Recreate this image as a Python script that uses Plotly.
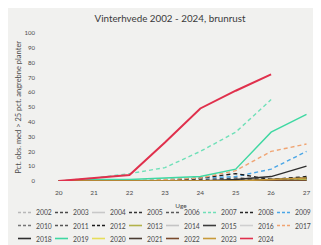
import plotly.graph_objects as go

# ---------------- data ----------------
weeks = [20, 21, 22, 23, 24, 25, 26, 27]
week_labels = ["20", "21", "22", "23", "24", "25", "26", "27"]
years = ["2002", "2003", "2004", "2005", "2006", "2007", "2008", "2009",
         "2010", "2011", "2012", "2013", "2014", "2015", "2016", "2017",
         "2018", "2019", "2020", "2021", "2022", "2023", "2024"]

y2002 = [0, 0, 0, 0, 0, 0, 0, 0]
y2003 = [0, 0, 0, 0, 1, 2, 1, 2]
y2004 = [0, 0, 0, 0, 0, 0, 0, 0]
y2005 = [0, 0, 0, 0, 0, 0, 0, 1]
y2006 = [0, 0, 0, 0, 0, 1, 0, 0]
y2007 = [0, 2, 5, 9, 20, 33, 55, None]
y2008 = [0, 0, 0, 0, 0, 0, 1, 2]
y2009 = [0, 0, 0, 1, 2, 3, 8, 20]
y2010 = [0, 0, 0, 0, 0, 0, 0, 0]
y2011 = [0, 0, 0, 0, 0, 0, 0, 0]
y2012 = [0, 0, 0, 0, 2, 5, 1, 3]
y2013 = [0, 0, 0, 0, 0, 0, 0, 1]
y2014 = [0, 0, 0, 0, 0, 0, 0, 0]
y2015 = [0, 0, 0, 0, 0, 0, 1, 2]
y2016 = [0, 0, 0, 0, 0, 0, 0, 0]
y2017 = [0, 0, 0, 1, 2, 7, 20, 25]
y2018 = [0, 0, 0, 0, 0, 1, 3, 10]
y2019 = [0, 1, 1, 2, 3, 8, 33, 45]
y2020 = [0, 0, 0, 0, 0, 0, 0, 0]
y2021 = [0, 0, 0, 0, 0, 0, 0, 0]
y2022 = [0, 0, 0, 0, 0, 0, 0, 0]
y2023 = [0, 0, 0, 0, 0, 0, 1, 2]
y2024 = [0, 2, 4, 26, 49, 61, 72, None]

series_values = [y2002, y2003, y2004, y2005, y2006, y2007, y2008, y2009,
                 y2010, y2011, y2012, y2013, y2014, y2015, y2016, y2017,
                 y2018, y2019, y2020, y2021, y2022, y2023, y2024]

# ---------------- styles ----------------
DASH = "4px,3px"
styles = {
    "2002": ("#b8b8b8", DASH), "2003": ("#4a4a4a", DASH), "2004": ("#c8c8c8", "solid"),
    "2005": ("#333333", DASH), "2006": ("#5a5a5a", DASH), "2007": ("#6fe0b8", DASH),
    "2008": ("#262626", DASH), "2009": ("#4aa6e6", DASH), "2010": ("#767676", DASH),
    "2011": ("#555555", DASH), "2012": ("#1c1c1c", DASH), "2013": ("#b2b24a", "solid"),
    "2014": ("#c4c4c4", "solid"), "2015": ("#3c3c3c", "solid"), "2016": ("#cfcfcf", "solid"),
    "2017": ("#f0a472", DASH), "2018": ("#2e2e2e", "solid"), "2019": ("#3fd8a2", "solid"),
    "2020": ("#e6de5a", "solid"), "2021": ("#4a3c32", "solid"), "2022": ("#7a4a2c", "solid"),
    "2023": ("#c89a3a", "solid"), "2024": ("#e0304c", "solid"),
}

BG = "#f1f1ef"
TXT = "#4a4a4a"
FONT = "Lato, 'Open Sans', sans-serif"

# the page body has an 8px margin; the figure is sized to fill the rest
OFF = 8
W, H = 321 - OFF, 245 - OFF
ML, MR, MT, MB = 33, 0, 25, 64
PW, PH = W - ML - MR, H - MT - MB

fig = go.Figure()
for name, vals in zip(years, series_values):
    col, dash = styles[name]
    fig.add_trace(go.Scatter(
        x=weeks, y=vals, name=name, mode="lines",
        line=dict(color=col, width=2 if name == "2024" else 1.4, dash=dash),
        showlegend=False,
    ))

# compact legend (3 rows x 8), built from the year list
def pxx(px):
    return (px - ML) / PW

def pxy(py):
    return (MT + PH - py) / PH

for i, name in enumerate(years):
    r, c = divmod(i, 8)
    x0 = 10 + 37 * c
    yy = 204.5 + 13 * r
    col, dash = styles[name]
    fig.add_shape(type="line", xref="paper", yref="paper",
                  x0=pxx(x0), x1=pxx(x0 + 13), y0=pxy(yy), y1=pxy(yy),
                  line=dict(color=col, width=1.6, dash="3px,2px" if dash != "solid" else "solid"))
    fig.add_annotation(text=name, xref="paper", yref="paper",
                       x=pxx(x0 + 15.5), y=pxy(yy), xanchor="left", yanchor="middle",
                       showarrow=False, font=dict(size=6.8, color=TXT, family=FONT))

# y-axis title
fig.add_annotation(text="Pct. obs. med > 25 pct. angrebne planter", textangle=-90,
                   xref="paper", yref="paper", x=pxx(9.7), y=0.5,
                   xanchor="center", yanchor="middle", showarrow=False,
                   font=dict(size=7.5, color=TXT, family=FONT))

fig.update_layout(
    width=W, height=H,
    margin=dict(l=ML, r=MR, t=MT, b=MB),
    paper_bgcolor=BG, plot_bgcolor=BG,
    font=dict(family=FONT, color=TXT, size=6.5),
    title=dict(text="Vinterhvede 2002 - 2024, brunrust", x=162 / W, xanchor="center",
               y=1 - 11 / H, yanchor="middle",
               font=dict(size=9.8, color="#3a3a3a", family=FONT)),
    showlegend=False,
)
fig.update_xaxes(
    range=[19.5, 19.5 + PW / 35.4], tickvals=weeks, ticktext=week_labels,
    showgrid=False, zeroline=False, showline=False, ticks="",
    ticklabelstandoff=6, tickfont=dict(size=6.5, color=TXT),
    title=dict(text="Uge", standoff=8, font=dict(size=6.5, color=TXT)),
)
fig.update_yaxes(
    range=[0, 100], dtick=10, showgrid=False, zeroline=False, showline=False, ticks="",
    ticklabelstandoff=5, tickfont=dict(size=6, color=TXT),
)

fig.write_html("out.html")
